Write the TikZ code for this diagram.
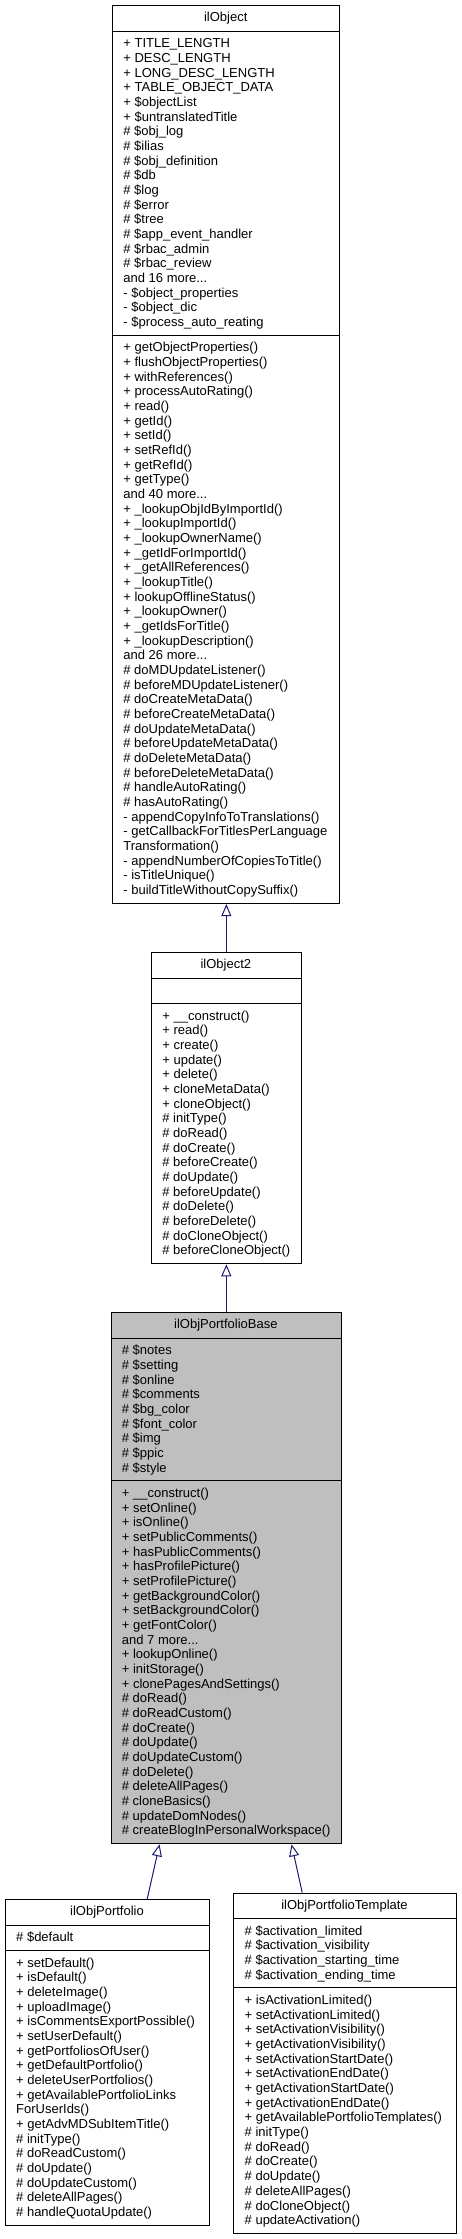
\documentclass[tikz,border=0pt]{standalone}
\usepackage{fontspec}
\setmainfont{Liberation Sans}
\usetikzlibrary{arrows.meta,calc}
\definecolor{edgeblue}{HTML}{191970}
\definecolor{basegray}{HTML}{BFBFBF}
\tikzset{
  umlbox/.style={draw=black, line width=1pt, inner sep=0pt, anchor=north west},
  sepline/.style={draw=black, line width=1pt},
  txt/.style={anchor=base west, inner sep=0pt, font=\fontsize{13}{14.67}\selectfont},
  ttl/.style={anchor=base, inner sep=0pt, font=\fontsize{13}{14.67}\selectfont},
  inherit/.style={draw=edgeblue, line width=1pt, -{Triangle[length=12pt,width=10pt,fill=white]}},
}
\newcommand\tdots{.\kern0pt.\kern0pt.}
\newcommand\fieldlines[4]{%
  \foreach \txtline [count=\i from 0] in {#4} {\node[txt] (#1\i) at (#2,{#3+\i*14.67}) {\txtline};}}
\begin{document}
\begin{tikzpicture}[x=1pt,y=-1pt]
\useasboundingbox (0,0) rectangle (461,2239);
% ---------- ilObject ----------
\node[umlbox, minimum width=227pt, minimum height=898.1pt] (ilobj) at (112.2,5) {};
\draw[sepline] (ilobj.west |- 0,31) -- (ilobj.east |- 0,31);
\draw[sepline] (ilobj.west |- 0,335) -- (ilobj.east |- 0,335);
\node[ttl] (ilobjT) at (225.7,21.8) {ilObject};
\fieldlines{oa}{123.2}{47.8}{+ TITLE\_LENGTH, + DESC\_LENGTH, + LONG\_DESC\_LENGTH, + TABLE\_OBJECT\_DATA, + \$objectList, + \$untranslatedTitle, \# \$obj\_log, \# \$ilias, \# \$obj\_definition, \# \$db, \# \$log, \# \$error, \# \$tree, \# \$app\_event\_handler, \# \$rbac\_admin, \# \$rbac\_review, and 16 more\tdots, - \$object\_properties, - \$object\_dic, - \$process\_auto\_reating}
\fieldlines{om}{123.2}{351.8}{+ getObjectProperties(), + flushObjectProperties(), + withReferences(), + processAutoRating(), + read(), + getId(), + setId(), + setRefId(), + getRefId(), + getType(), and 40 more\tdots, + \_lookupObjIdByImportId(), + \_lookupImportId(), + \_lookupOwnerName(), + \_getIdForImportId(), + \_getAllReferences(), + \_lookupTitle(), + lookupOfflineStatus(), + \_lookupOwner(), + \_getIdsForTitle(), + \_lookupDescription(), and 26 more\tdots, \# doMDUpdateListener(), \# beforeMDUpdateListener(), \# doCreateMetaData(), \# beforeCreateMetaData(), \# doUpdateMetaData(), \# beforeUpdateMetaData(), \# doDeleteMetaData(), \# beforeDeleteMetaData(), \# handleAutoRating(), \# hasAutoRating(), - appendCopyInfoToTranslations(), - getCallbackForTitlesPerLanguage, Transformation(), - appendNumberOfCopiesToTitle(), - isTitleUnique(), - buildTitleWithoutCopySuffix()}
% ---------- ilObject2 ----------
\node[umlbox, minimum width=149.7pt, minimum height=311.3pt] (ilobj2) at (151,952) {};
\draw[sepline] (ilobj2.west |- 0,978) -- (ilobj2.east |- 0,978);
\draw[sepline] (ilobj2.west |- 0,1003.3) -- (ilobj2.east |- 0,1003.3);
\node[ttl] (ilobj2T) at (225.85,968.8) {ilObject2};
\fieldlines{tm}{162.2}{1020.1}{+ \_\_construct(), + read(), + create(), + update(), + delete(), + cloneMetaData(), + cloneObject(), \# initType(), \# doRead(), \# doCreate(), \# beforeCreate(), \# doUpdate(), \# beforeUpdate(), \# doDelete(), \# beforeDelete(), \# doCloneObject(), \# beforeCloneObject()}
% ---------- ilObjPortfolioBase ----------
\node[umlbox, fill=basegray, minimum width=230.3pt, minimum height=531.3pt] (base) at (110.7,1312) {};
\draw[sepline] (base.west |- 0,1338) -- (base.east |- 0,1338);
\draw[sepline] (base.west |- 0,1480.6) -- (base.east |- 0,1480.6);
\node[ttl] (baseT) at (225.85,1328.8) {ilObjPortfolioBase};
\fieldlines{ba}{121.7}{1354.8}{\# \$notes, \# \$setting, \# \$online, \# \$comments, \# \$bg\_color, \# \$font\_color, \# \$img, \# \$ppic, \# \$style}
\fieldlines{bm}{121.7}{1497.4}{+ \_\_construct(), + setOnline(), + isOnline(), + setPublicComments(), + hasPublicComments(), + hasProfilePicture(), + setProfilePicture(), + getBackgroundColor(), + setBackgroundColor(), + getFontColor(), and 7 more\tdots, + lookupOnline(), + initStorage(), + clonePagesAndSettings(), \# doRead(), \# doReadCustom(), \# doCreate(), \# doUpdate(), \# doUpdateCustom(), \# doDelete(), \# deleteAllPages(), \# cloneBasics(), \# updateDomNodes(), \# createBlogInPersonalWorkspace()}
% ---------- ilObjPortfolio ----------
\node[umlbox, minimum width=204pt, minimum height=326pt] (port) at (5,1899) {};
\draw[sepline] (port.west |- 0,1925) -- (port.east |- 0,1925);
\draw[sepline] (port.west |- 0,1950.3) -- (port.east |- 0,1950.3);
\node[ttl] (portT) at (107,1915.8) {ilObjPortfolio};
\fieldlines{pa}{16}{1941.8}{\# \$default}
\fieldlines{pm}{16}{1967.1}{+ setDefault(), + isDefault(), + deleteImage(), + uploadImage(), + isCommentsExportPossible(), + setUserDefault(), + getPortfoliosOfUser(), + getDefaultPortfolio(), + deleteUserPortfolios(), + getAvailablePortfolioLinks, ForUserIds(), + getAdvMDSubItemTitle(), \# initType(), \# doReadCustom(), \# doUpdate(), \# doUpdateCustom(), \# deleteAllPages(), \# handleQuotaUpdate()}
% ---------- ilObjPortfolioTemplate ----------
\node[umlbox, minimum width=223pt, minimum height=340.6pt] (tmpl) at (233,1892.5) {};
\draw[sepline] (tmpl.west |- 0,1918.5) -- (tmpl.east |- 0,1918.5);
\draw[sepline] (tmpl.west |- 0,1987.8) -- (tmpl.east |- 0,1987.8);
\node[ttl] (tmplT) at (344.5,1909.3) {ilObjPortfolioTemplate};
\fieldlines{ra}{244.5}{1935.3}{\# \$activation\_limited, \# \$activation\_visibility, \# \$activation\_starting\_time, \# \$activation\_ending\_time}
\fieldlines{rm}{244.5}{2004.6}{+ isActivationLimited(), + setActivationLimited(), + setActivationVisibility(), + getActivationVisibility(), + setActivationStartDate(), + setActivationEndDate(), + getActivationStartDate(), + getActivationEndDate(), + getAvailablePortfolioTemplates(), \# initType(), \# doRead(), \# doCreate(), \# doUpdate(), \# deleteAllPages(), \# doCloneObject(), \# updateActivation()}
% ---------- inheritance ----------
\draw[inherit] (ilobj2.north) -- (ilobj2.north |- ilobj.south);
\draw[inherit] (base.north) -- (base.north |- ilobj2.south);
\draw[inherit] ($(port.north)+(39.7,0)$) -- ($(base.south)+(-66.8,0)$);
\draw[inherit] ($(tmpl.north)+(-42.8,0)$) -- ($(base.south)+(65.2,0)$);
\end{tikzpicture}
\end{document}
